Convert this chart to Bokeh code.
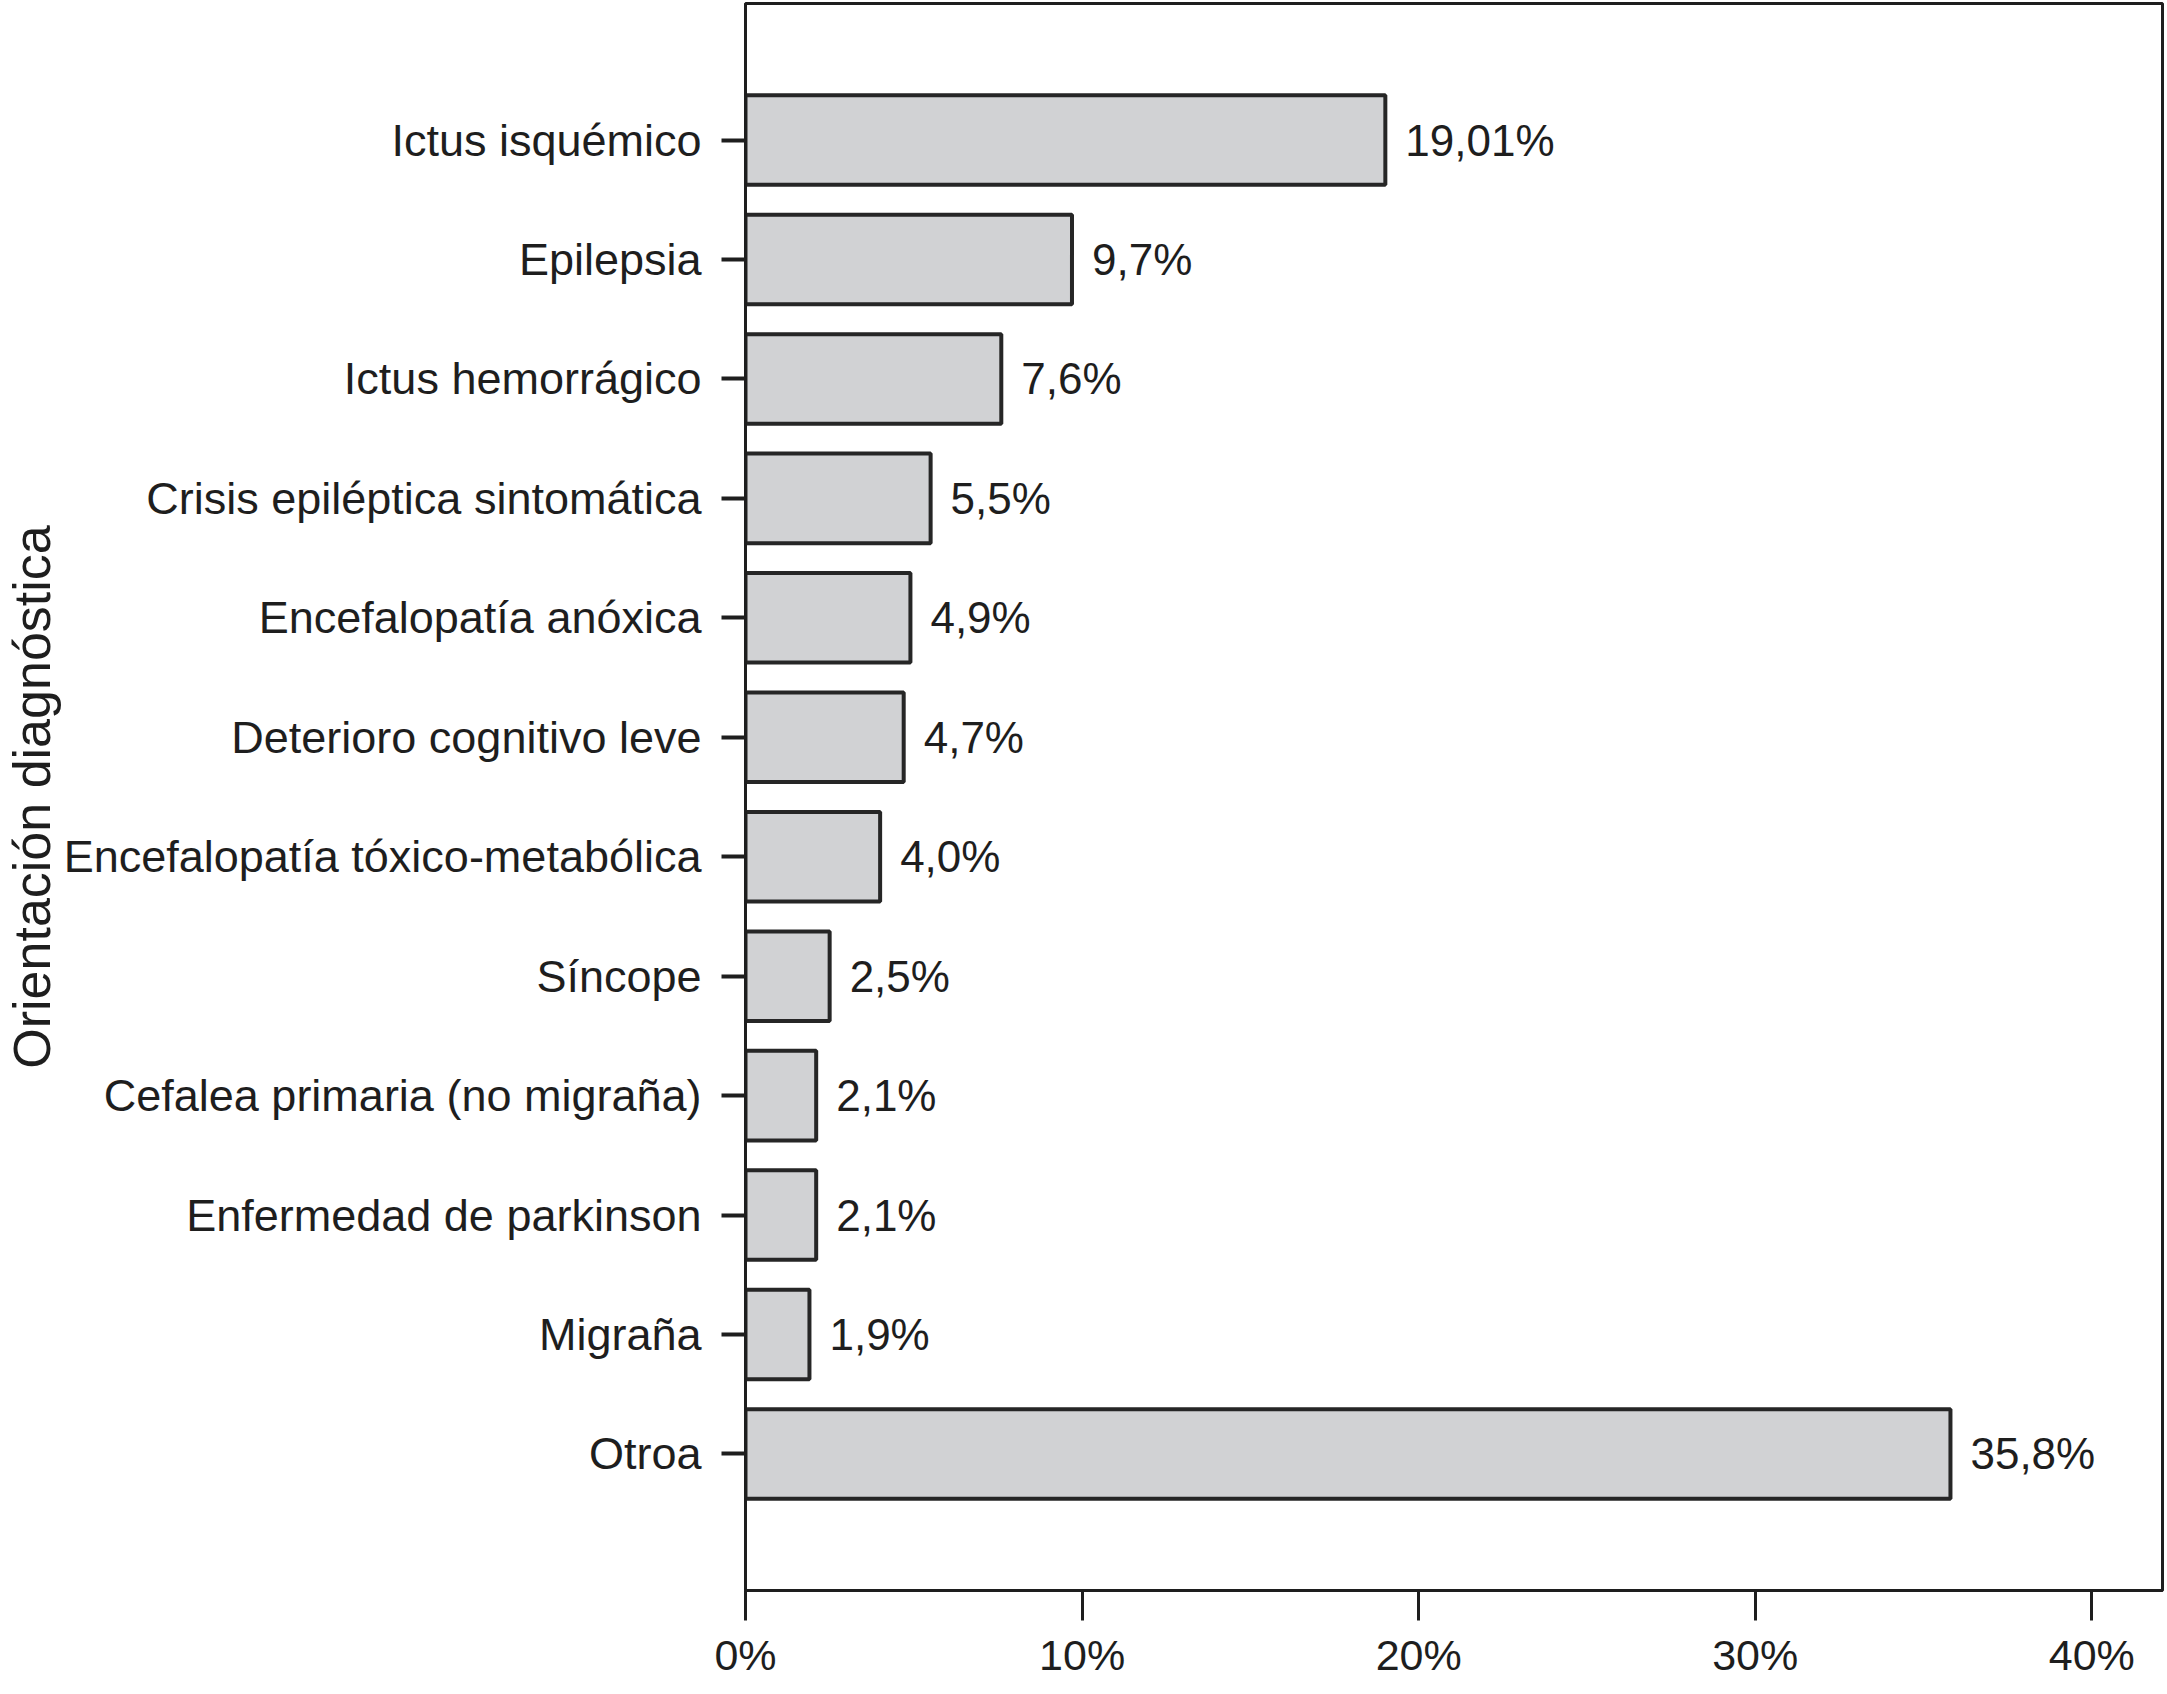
from bokeh.plotting import figure
from bokeh.models import (ColumnDataSource, FactorRange, Range1d, FixedTicker,
                          CustomJSTickFormatter, Title)
from bokeh.core.properties import value
from bokeh.embed import file_html
from bokeh.resources import INLINE

# ---- data (top to bottom as in the chart) ----
categories = [
    "Ictus isquémico",
    "Epilepsia",
    "Ictus hemorrágico",
    "Crisis epiléptica sintomática",
    "Encefalopatía anóxica",
    "Deterioro cognitivo leve",
    "Encefalopatía tóxico-metabólica",
    "Síncope",
    "Cefalea primaria (no migraña)",
    "Enfermedad de parkinson",
    "Migraña",
    "Otroa",
]
percentages = [19.01, 9.7, 7.6, 5.5, 4.9, 4.7, 4.0, 2.5, 2.1, 2.1, 1.9, 35.8]
value_labels = ["19,01%", "9,7%", "7,6%", "5,5%", "4,9%", "4,7%", "4,0%",
                "2,5%", "2,1%", "2,1%", "1,9%", "35,8%"]
x_ticks = [0, 10, 20, 30, 40]
axis_title = "Orientación diagnóstica"

FONT = "Liberation Sans"
INK = "#1e1e1e"

source = ColumnDataSource(dict(cat=categories, val=percentages, lab=value_labels))

X_MAX = 42.1
p = figure(
    width=2166, height=1690,
    output_backend="svg", toolbar_location=None, tools="",
    x_range=Range1d(0, X_MAX),
    y_range=FactorRange(factors=categories[::-1], range_padding=0.643,
                        range_padding_units="absolute"),
    min_border_left=743, min_border_right=4, min_border_top=3, min_border_bottom=100,
)
p.background_fill_color = "white"
p.border_fill_color = "white"
p.xgrid.visible = False
p.ygrid.visible = False
p.outline_line_color = INK
p.outline_line_width = 3

p.hbar(y="cat", left=0, right="val", height=0.75, source=source,
       fill_color="#d1d2d4", line_color="#262626", line_width=4)

p.text(x="val", y="cat", text="lab", source=source, x_offset=20,
       text_align="left", text_baseline="middle",
       text_font=value(FONT), text_font_size="44px", text_color=INK)

# x axis
xa = p.xaxis[0]
xa.ticker = FixedTicker(ticks=x_ticks)
xa.formatter = CustomJSTickFormatter(code="return tick + '%';")
xa.minor_tick_line_color = None
xa.major_tick_in = 0
xa.major_tick_out = 30
xa.major_tick_line_width = 3
xa.major_tick_line_color = INK
xa.axis_line_width = 3
xa.axis_line_color = INK
xa.major_label_standoff = 10
xa.major_label_text_font = FONT
xa.major_label_text_font_size = "43px"
xa.major_label_text_color = INK

# y axis
ya = p.yaxis[0]
ya.major_tick_in = 0
ya.major_tick_out = 24
ya.major_tick_line_width = 4
ya.major_tick_line_color = INK
ya.axis_line_width = 3
ya.axis_line_color = INK
ya.major_label_standoff = 20
ya.major_label_text_font = FONT
ya.major_label_text_font_size = "45px"
ya.major_label_text_color = INK

# vertical axis title as a side title (does not get clipped by the frame)
p.add_layout(Title(text=axis_title, align="center", text_font=FONT,
                   text_font_size="52px", text_font_style="normal",
                   text_color=INK, standoff=0, offset=0), "left")

open("out.html", "w").write(file_html(p, INLINE))
